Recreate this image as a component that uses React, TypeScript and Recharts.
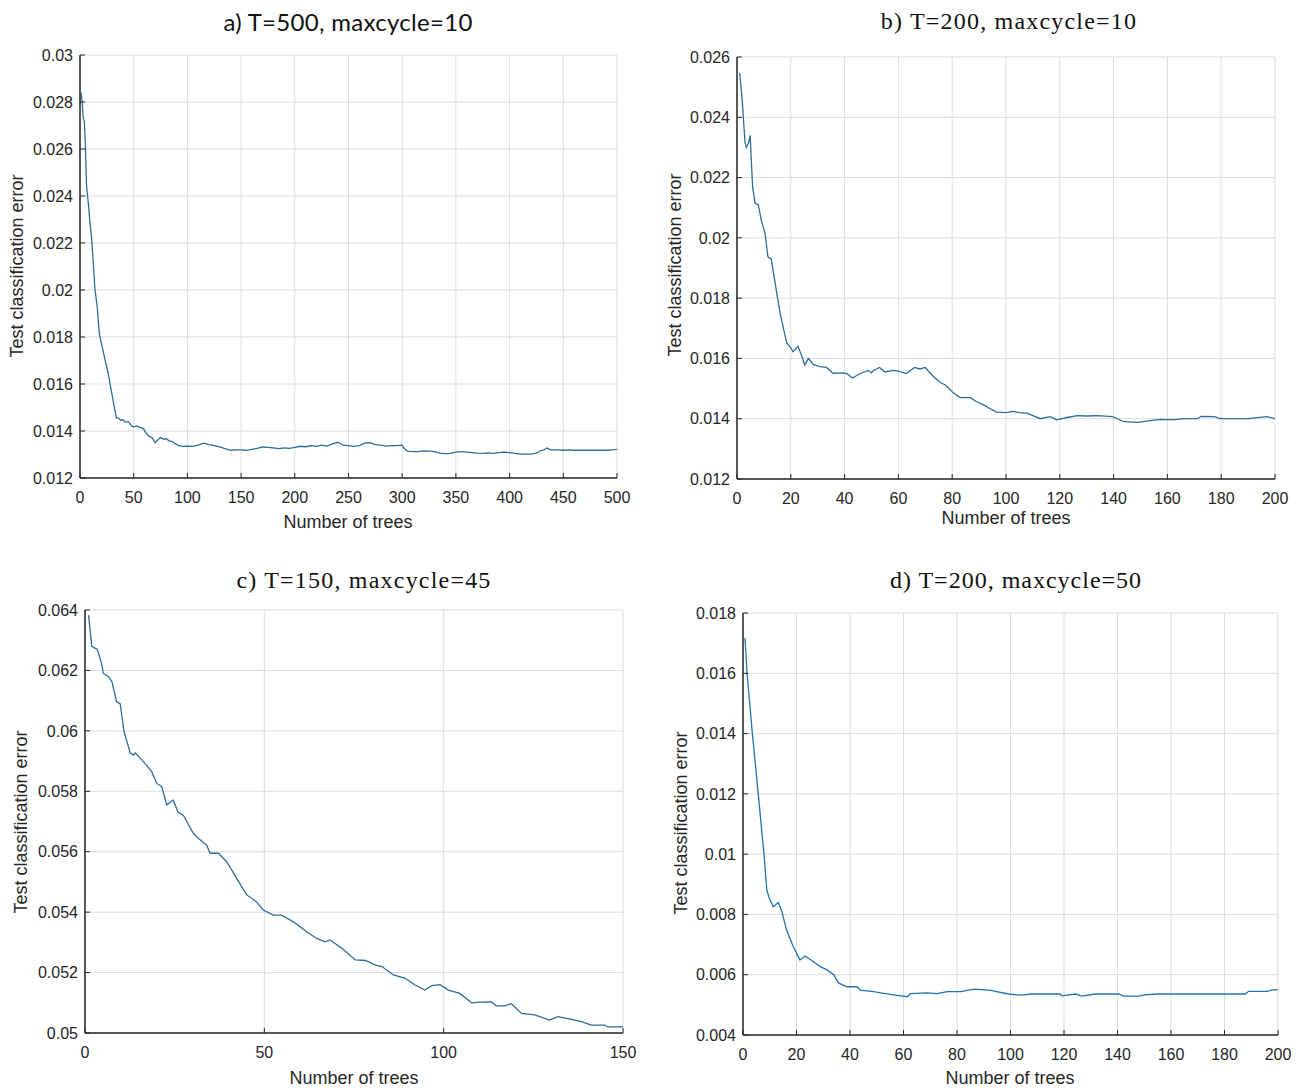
import { LineChart, Line, XAxis, YAxis, CartesianGrid } from "recharts";

// a) T=500, maxcycle=10
const treesA = [1, 2, 3, 4, 5, 6, 7, 8, 9, 11, 13, 14, 16, 18, 20, 22, 24, 26, 28, 30, 32, 34, 36, 38, 40, 42, 45, 48, 50, 53, 56, 59, 61, 64, 67, 70, 73, 75, 78, 80, 83, 86, 89, 92, 95, 100, 105, 110, 115, 120, 125, 130, 135, 140, 145, 150, 155, 160, 165, 170, 175, 180, 185, 190, 195, 200, 205, 210, 215, 220, 225, 230, 235, 240, 245, 250, 255, 260, 265, 270, 275, 280, 285, 290, 295, 300, 302, 305, 310, 315, 320, 325, 330, 335, 340, 345, 350, 355, 360, 365, 370, 375, 380, 385, 390, 395, 400, 405, 410, 415, 420, 425, 428, 432, 435, 438, 445, 450, 455, 460, 470, 480, 490, 495, 500];
const errorA = [0.0284, 0.028, 0.0273, 0.0272, 0.0262, 0.0245, 0.024, 0.0236, 0.023, 0.0221, 0.0207, 0.02, 0.0193, 0.01815, 0.0177, 0.0173, 0.0169, 0.0165, 0.016, 0.0155, 0.015, 0.01455, 0.01455, 0.01445, 0.01448, 0.01438, 0.0144, 0.01422, 0.01418, 0.01422, 0.01415, 0.0141, 0.01395, 0.01378, 0.01372, 0.0135, 0.01365, 0.01372, 0.01365, 0.01368, 0.01358, 0.01355, 0.01345, 0.01338, 0.01335, 0.01336, 0.01335, 0.0134, 0.01348, 0.01342, 0.01338, 0.01332, 0.01325, 0.01318, 0.0132, 0.0132, 0.01318, 0.01322, 0.01326, 0.01332, 0.0133, 0.01328, 0.01325, 0.01328, 0.01326, 0.0133, 0.01335, 0.01333, 0.01338, 0.01335, 0.0134, 0.01336, 0.01345, 0.01352, 0.0134, 0.01338, 0.01335, 0.01338, 0.01348, 0.0135, 0.01342, 0.0134, 0.01336, 0.01338, 0.01338, 0.0134, 0.01325, 0.01314, 0.01312, 0.01312, 0.01315, 0.01314, 0.01312, 0.01306, 0.01304, 0.01305, 0.0131, 0.01312, 0.0131, 0.01308, 0.01306, 0.01305, 0.01307, 0.01305, 0.01308, 0.0131, 0.01308, 0.01305, 0.01302, 0.01302, 0.01302, 0.01306, 0.01315, 0.0132, 0.01328, 0.0132, 0.0132, 0.01318, 0.0132, 0.01318, 0.01318, 0.01318, 0.01318, 0.0132, 0.01322];
const xTicksA = [0, 50, 100, 150, 200, 250, 300, 350, 400, 450, 500];
const yTicksA = [0.012, 0.014, 0.016, 0.018, 0.02, 0.022, 0.024, 0.026, 0.028, 0.03];

// b) T=200, maxcycle=10
const treesB = [1, 2, 2.5, 3, 3.5, 4.3, 4.9, 5.3, 5.8, 6.7, 7.9, 9, 10.4, 11.5, 12.7, 14, 16, 18.5, 19.6, 20.9, 22.7, 24, 25.2, 26.5, 27.5, 28.3, 30.8, 33.3, 35.8, 38.3, 40.7, 43, 45.7, 48.8, 50, 50.7, 53, 55, 58, 60, 63, 66, 68, 70, 73, 75.5, 77.5, 80.5, 83, 86.7, 89, 92, 94, 96.5, 100, 102.7, 105, 108, 112.7, 116.5, 118.7, 122.7, 126.5, 130, 134, 139.5, 143.9, 148.9, 153, 157.6, 162.6, 166.4, 171.4, 172.5, 177.6, 179.5, 185, 190, 192.6, 197, 200];
const errorB = [0.02547, 0.0245, 0.0238, 0.02315, 0.023, 0.02315, 0.0234, 0.0226, 0.0217, 0.02115, 0.0211, 0.0206, 0.02016, 0.01937, 0.0193, 0.0186, 0.0175, 0.01651, 0.0164, 0.01622, 0.0164, 0.0161, 0.01578, 0.016, 0.0159, 0.0158, 0.01573, 0.0157, 0.0155, 0.01552, 0.0155, 0.01535, 0.0155, 0.0156, 0.01552, 0.0156, 0.0157, 0.01555, 0.0156, 0.01558, 0.0155, 0.0157, 0.01565, 0.0157, 0.0154, 0.0152, 0.01512, 0.01485, 0.0147, 0.0147, 0.01457, 0.01444, 0.01434, 0.01422, 0.0142, 0.01424, 0.0142, 0.01418, 0.014, 0.01407, 0.01396, 0.01404, 0.0141, 0.01409, 0.0141, 0.01407, 0.0139, 0.01388, 0.01393, 0.01398, 0.01397, 0.014, 0.014, 0.01408, 0.01407, 0.014, 0.014, 0.014, 0.01403, 0.01407, 0.014];
const xTicksB = [0, 20, 40, 60, 80, 100, 120, 140, 160, 180, 200];
const yTicksB = [0.012, 0.014, 0.016, 0.018, 0.02, 0.022, 0.024, 0.026];

// c) T=150, maxcycle=45
const treesC = [1, 1.9, 3.4, 4.6, 5.1, 6.5, 7.5, 8.8, 9.8, 10.9, 12.6, 13.5, 14, 16.3, 18.6, 20, 21.4, 22.8, 24.6, 26, 27.4, 29.3, 30.2, 32, 33.9, 34.9, 37.2, 39.5, 42.3, 45.1, 47.8, 49.7, 52.5, 54.8, 58.1, 61.8, 64.6, 66.9, 68.3, 71.7, 75.4, 78.2, 81, 82.8, 86, 89.3, 92, 94.8, 96.7, 99, 101.3, 104.5, 107.8, 110, 113.3, 114.7, 117, 118.9, 121.7, 125.4, 129.5, 131.9, 135.6, 138.4, 141.2, 144.9, 145.8, 150];
const errorC = [0.06383, 0.06279, 0.0627, 0.06224, 0.0619, 0.0618, 0.06163, 0.06096, 0.0609, 0.05997, 0.05927, 0.0592, 0.05927, 0.05898, 0.05865, 0.05826, 0.05815, 0.05755, 0.05771, 0.0573, 0.05721, 0.0568, 0.05661, 0.0564, 0.05622, 0.05595, 0.05595, 0.05567, 0.05512, 0.05457, 0.05434, 0.05407, 0.0539, 0.0539, 0.05368, 0.05335, 0.05313, 0.05302, 0.05308, 0.0528, 0.05242, 0.0524, 0.05225, 0.0522, 0.05192, 0.05181, 0.05159, 0.05142, 0.05157, 0.0516, 0.05142, 0.05131, 0.051, 0.05102, 0.05103, 0.0509, 0.0509, 0.05097, 0.05065, 0.0506, 0.05043, 0.05054, 0.05045, 0.05038, 0.05026, 0.05026, 0.0502, 0.0502];
const xTicksC = [0, 50, 100, 150];
const yTicksC = [0.05, 0.052, 0.054, 0.056, 0.058, 0.06, 0.062, 0.064];

// d) T=200, maxcycle=50
const treesD = [0.75, 1.5, 3.5, 5.7, 7.85, 8.9, 10, 11.3, 12, 13.2, 14.5, 16.3, 18.8, 21.3, 23.2, 26.4, 28.9, 31.4, 33.9, 35.8, 38.9, 42.6, 43.9, 48.9, 51.4, 56.4, 61.4, 62.6, 68.9, 72.6, 76.4, 81.4, 86.4, 92.6, 99.2, 104.2, 108, 118.6, 119.2, 124.2, 126.7, 131.7, 140.4, 142.3, 148, 149.8, 155.4, 187.8, 189, 196, 197.8, 200];
const errorD = [0.01717, 0.01601, 0.014, 0.012, 0.01, 0.0088, 0.0085, 0.00826, 0.0083, 0.0084, 0.0081, 0.00748, 0.00693, 0.00649, 0.00662, 0.00643, 0.00627, 0.00616, 0.006, 0.00572, 0.0056, 0.0056, 0.00549, 0.00544, 0.0054, 0.00533, 0.00527, 0.00537, 0.0054, 0.00537, 0.00544, 0.00544, 0.00552, 0.00548, 0.00536, 0.00532, 0.00536, 0.00536, 0.0053, 0.00536, 0.00529, 0.00536, 0.00536, 0.00529, 0.00529, 0.00533, 0.00536, 0.00536, 0.00545, 0.00545, 0.0055, 0.0055];
const xTicksD = [0, 20, 40, 60, 80, 100, 120, 140, 160, 180, 200];
const yTicksD = [0.004, 0.006, 0.008, 0.01, 0.012, 0.014, 0.016, 0.018];

const sans = "'Liberation Sans', Arial, sans-serif";
const serif = "'Liberation Serif', 'Times New Roman', serif";
const ink = "#262626";

type Box = { left: number; top: number; right: number; bottom: number };

const panels = [
  { title: "a) T=500, maxcycle=10", titleFont: "Lato, sans-serif", titleSpacing: 0.3, titleX: 348, titleY: 21, trees: treesA, errors: errorA, xTicks: xTicksA, yTicks: yTicksA, box: { left: 80, top: 55, right: 617, bottom: 478 }, color: "#2c6d99", yLab: [17, 266], xLab: [348, 522] },
  { title: "b) T=200, maxcycle=10", titleFont: serif, titleSpacing: 1.2, titleX: 1009, titleY: 21, trees: treesB, errors: errorB, xTicks: xTicksB, yTicks: yTicksB, box: { left: 737, top: 57, right: 1275, bottom: 479 }, color: "#2c6d99", yLab: [675, 265], xLab: [1006, 518] },
  { title: "c) T=150, maxcycle=45", titleFont: serif, titleSpacing: 1.2, titleX: 364, titleY: 580, trees: treesC, errors: errorC, xTicks: xTicksC, yTicks: yTicksC, box: { left: 85, top: 610, right: 623, bottom: 1033 }, color: "#2c6d99", yLab: [21, 822], xLab: [354, 1078] },
  { title: "d) T=200, maxcycle=50", titleFont: serif, titleSpacing: 1.0, titleX: 1016, titleY: 580, trees: treesD, errors: errorD, xTicks: xTicksD, yTicks: yTicksD, box: { left: 743, top: 613, right: 1278, bottom: 1035 }, color: "#2072b5", yLab: [681, 823], xLab: [1010, 1078] },
];

type PanelDef = (typeof panels)[number];

function ErrorPanel({ p }: { p: PanelDef }) {
  const box: Box = p.box;
  const w = box.right - box.left;
  const h = box.bottom - box.top;
  const padL = 80, padT = 10, padR = 20, padB = 60;
  const data = p.trees.map((t, i) => ({ trees: t, error: p.errors[i] }));
  const xDom = [p.xTicks[0], p.xTicks[p.xTicks.length - 1]];
  const yDom = [p.yTicks[0], p.yTicks[p.yTicks.length - 1]];
  const axisLine = { stroke: ink, strokeWidth: 1.5 };
  const tickStyle = { fill: ink, fontSize: 16, fontFamily: sans };

  return (
    <>
      <div style={{ position: "absolute", left: box.left - padL, top: box.top - padT }}>
        <LineChart width={w + padL + padR} height={h + padT + padB} data={data} margin={{ top: padT, right: padR, bottom: 0, left: 0 }}>
          <CartesianGrid xAxisId="b" yAxisId="l" stroke="#dcdcdc" strokeWidth={1} />
          <XAxis xAxisId="b" dataKey="trees" type="number" domain={xDom} ticks={p.xTicks} allowDataOverflow height={padB} tickSize={-5} tickMargin={19} axisLine={axisLine} tickLine={{ stroke: ink }} tick={tickStyle} interval={0} />
          <XAxis xAxisId="t" orientation="top" dataKey="trees" type="number" domain={xDom} ticks={p.xTicks} allowDataOverflow height={0} tickSize={-5} axisLine={axisLine} tickLine={{ stroke: ink }} tick={false} interval={0} />
          <YAxis yAxisId="l" type="number" domain={yDom} ticks={p.yTicks} allowDataOverflow width={padL} tickSize={-5} tickMargin={12} axisLine={axisLine} tickLine={{ stroke: ink }} tick={tickStyle} interval={0} />
          <YAxis yAxisId="r" orientation="right" type="number" domain={yDom} ticks={p.yTicks} allowDataOverflow width={0} tickSize={-5} axisLine={axisLine} tickLine={{ stroke: ink }} tick={false} interval={0} />
          <Line xAxisId="b" yAxisId="l" type="linear" dataKey="error" stroke={p.color} strokeWidth={1.3} dot={false} activeDot={false} isAnimationActive={false} />
        </LineChart>
      </div>
      <div style={{ position: "absolute", left: p.titleX, top: p.titleY, transform: "translate(-50%, -50%)", fontFamily: p.titleFont, fontSize: 24, letterSpacing: p.titleSpacing, color: "#111", whiteSpace: "nowrap" }}>{p.title}</div>
      <div style={{ position: "absolute", left: p.yLab[0], top: p.yLab[1], transform: "translate(-50%, -50%) rotate(-90deg)", fontFamily: sans, fontSize: 18, color: ink, whiteSpace: "nowrap" }}>Test classification error</div>
      <div style={{ position: "absolute", left: p.xLab[0], top: p.xLab[1], transform: "translate(-50%, -50%)", fontFamily: sans, fontSize: 18, color: ink, whiteSpace: "nowrap" }}>Number of trees</div>
    </>
  );
}

export default function App() {
  return (
    <div style={{ position: "absolute", left: 0, top: 0, width: 1304, height: 1091, background: "#fff" }}>
      {panels.map((p) => (
        <ErrorPanel key={p.title} p={p} />
      ))}
    </div>
  );
}
